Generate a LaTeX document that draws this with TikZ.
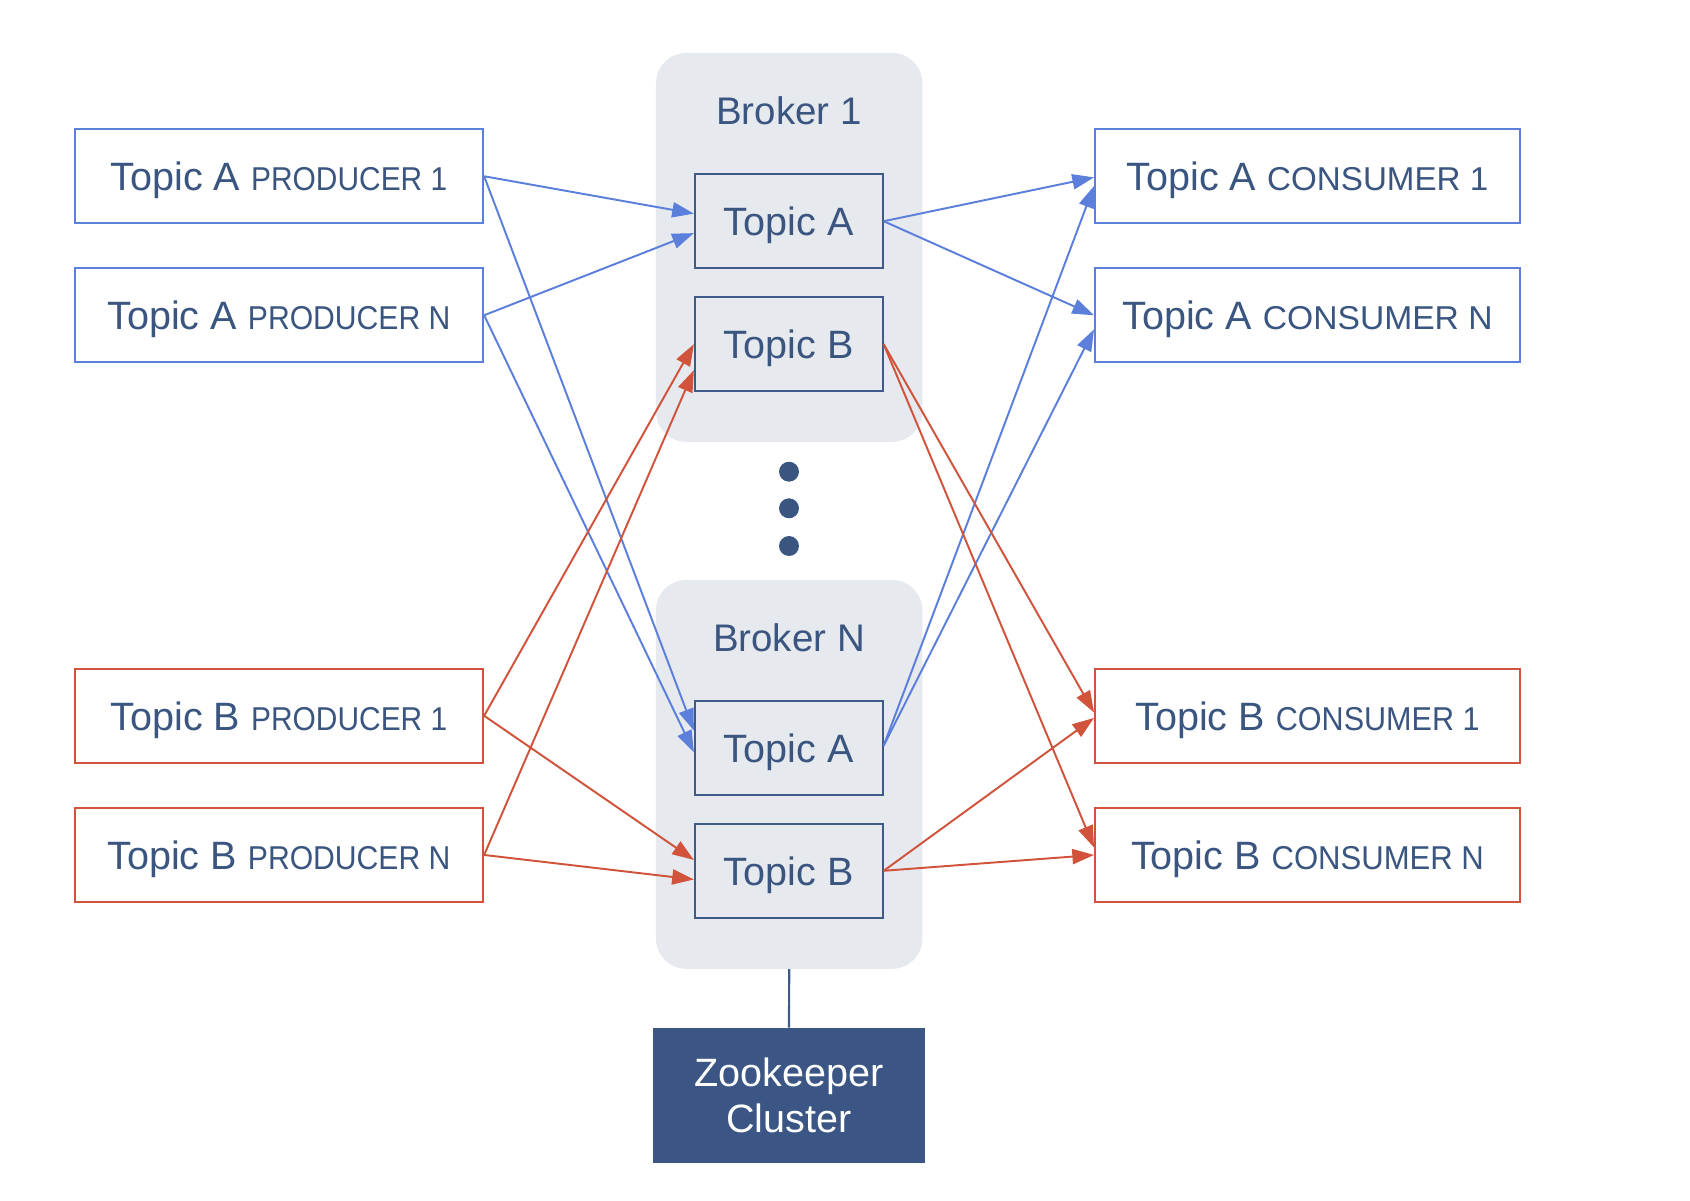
\documentclass[tikz,border=0pt]{standalone}
\usepackage{fontspec}
\usepackage{graphicx}
\setmainfont{Liberation Sans}
\usetikzlibrary{arrows.meta,calc}
\definecolor{navy}{HTML}{3A5580}
\definecolor{boxnavy}{HTML}{3E5A87}
\definecolor{lblue}{HTML}{5B7FDB}
\definecolor{lred}{HTML}{D1533B}
\definecolor{bgray}{HTML}{E6E9EE}
\definecolor{zkfill}{HTML}{3B5684}
\newcommand{\bigfnt}{\fontsize{36.5}{42.5}\selectfont}
\newcommand{\lbl}[3]{{\bigfnt Topic #1}\hspace{10pt}{\fontsize{30.5}{34}\selectfont\resizebox{#3pt}{\height}{#2}}}
\begin{document}
\begin{tikzpicture}[x=1pt,y=-1pt,
  ext/.style={draw, line width=1.8pt, minimum height=86.6pt, inner sep=0pt,
    text height=26.5pt, text depth=0pt, text=navy, fill=white},
  prod/.style={ext, minimum width=377pt},
  cons/.style={ext, minimum width=392.3pt},
  topicbox/.style={draw=boxnavy, line width=2pt, fill=bgray, minimum width=173.2pt,
    minimum height=87.1pt, inner sep=0pt, text height=26.5pt, text depth=0pt,
    text=navy, font=\bigfnt},
  brokerbg/.style={fill=bgray, rounded corners=28pt, minimum width=246pt,
    minimum height=359pt, inner sep=0pt},
  brokerlbl/.style={anchor=base, text=navy, font=\fontsize{35.5}{40}\selectfont},
  dotnode/.style={circle, fill=navy, minimum size=18.4pt, inner sep=0pt},
  zkbox/.style={fill=zkfill, minimum width=251pt, minimum height=124.4pt, inner sep=0pt,
    text=white, align=center, font=\bigfnt},
  bl/.style={lblue, line width=1.8pt, -{Triangle[length=20pt,width=14pt]}},
  rl/.style={lred, line width=1.8pt, -{Triangle[length=20pt,width=14pt]}}
]
\useasboundingbox (0,0) rectangle (1560,1107.7);

% brokers
\node[brokerbg] (b1) at (728.5,228.4) {};
\node[brokerbg] (bN) at (728.5,714.8) {};
\node[brokerlbl] (b1l) at (728.3,114.8) {Broker 1};
\node[brokerlbl] (bNl) at (728.3,601) {Broker N};
\node[topicbox] (ta1) at (728.1,204.2) {Topic A};
\node[topicbox] (tb1) at (728.1,317.7) {Topic B};
\node[topicbox] (taN) at (728.1,690.3) {Topic A};
\node[topicbox] (tbN) at (728.1,803.8) {Topic B};

% dots
\node[dotnode] (d1) at (728.3,435.4) {};
\node[dotnode] (d2) at (728.3,469.2) {};
\node[dotnode] (d3) at (728.3,504) {};

% producers
\node[prod, draw=lblue] (ap1) at (257.5,162.7) {\lbl{A}{PRODUCER 1}{181}};
\node[prod, draw=lblue] (apN) at (257.5,291) {\lbl{A}{PRODUCER N}{187}};
\node[prod, draw=lred] (bp1) at (257.5,660.7) {\lbl{B}{PRODUCER 1}{181}};
\node[prod, draw=lred] (bpN) at (257.5,789.2) {\lbl{B}{PRODUCER N}{187}};

% consumers
\node[cons, draw=lblue] (ac1) at (1206.9,162.7) {\lbl{A}{CONSUMER 1}{204}};
\node[cons, draw=lblue] (acN) at (1206.9,291) {\lbl{A}{CONSUMER N}{212}};
\node[cons, draw=lred] (bc1) at (1206.9,660.7) {\lbl{B}{CONSUMER 1}{188}};
\node[cons, draw=lred] (bcN) at (1206.9,789.2) {\lbl{B}{CONSUMER N}{196}};

% zookeeper
\node[zkbox] (zk) at (728.3,1011) {Zookeeper\\Cluster};
\draw[boxnavy, line width=2pt] (bN.south) -- (zk.north);

% topic A connectors
\draw[bl] (ap1.east) -- ($(ta1.west)+(0,-7)$);
\draw[bl] (apN.east) -- ($(ta1.west)+(0,11)$);
\draw[bl] (ap1.east) -- ($(taN.west)+(0,-16)$);
\draw[bl] (apN.east) -- ($(taN.west)+(0,4)$);
\draw[bl] (ta1.east) -- ($(ac1.west)+(0,1)$);
\draw[bl] (ta1.east) -- (acN.west);
\draw[bl] ($(taN.east)+(0,-2)$) -- ($(ac1.west)+(0,9)$);
\draw[bl] ($(taN.east)+(0,-2)$) -- ($(acN.west)+(0,13)$);

% topic B connectors
\draw[rl] (bp1.east) -- (tb1.west);
\draw[rl] (bpN.east) -- ($(tb1.west)+(0,24)$);
\draw[rl] (bp1.east) -- ($(tbN.west)+(0,-10)$);
\draw[rl] (bpN.east) -- ($(tbN.west)+(0,8)$);
\draw[rl] (tb1.east) -- ($(bc1.west)+(0,-3)$);
\draw[rl] (tb1.east) -- ($(bcN.west)+(0,-7)$);
\draw[rl] (tbN.east) -- ($(bc1.west)+(0,2)$);
\draw[rl] (tbN.east) -- (bcN.west);
\end{tikzpicture}
\end{document}
